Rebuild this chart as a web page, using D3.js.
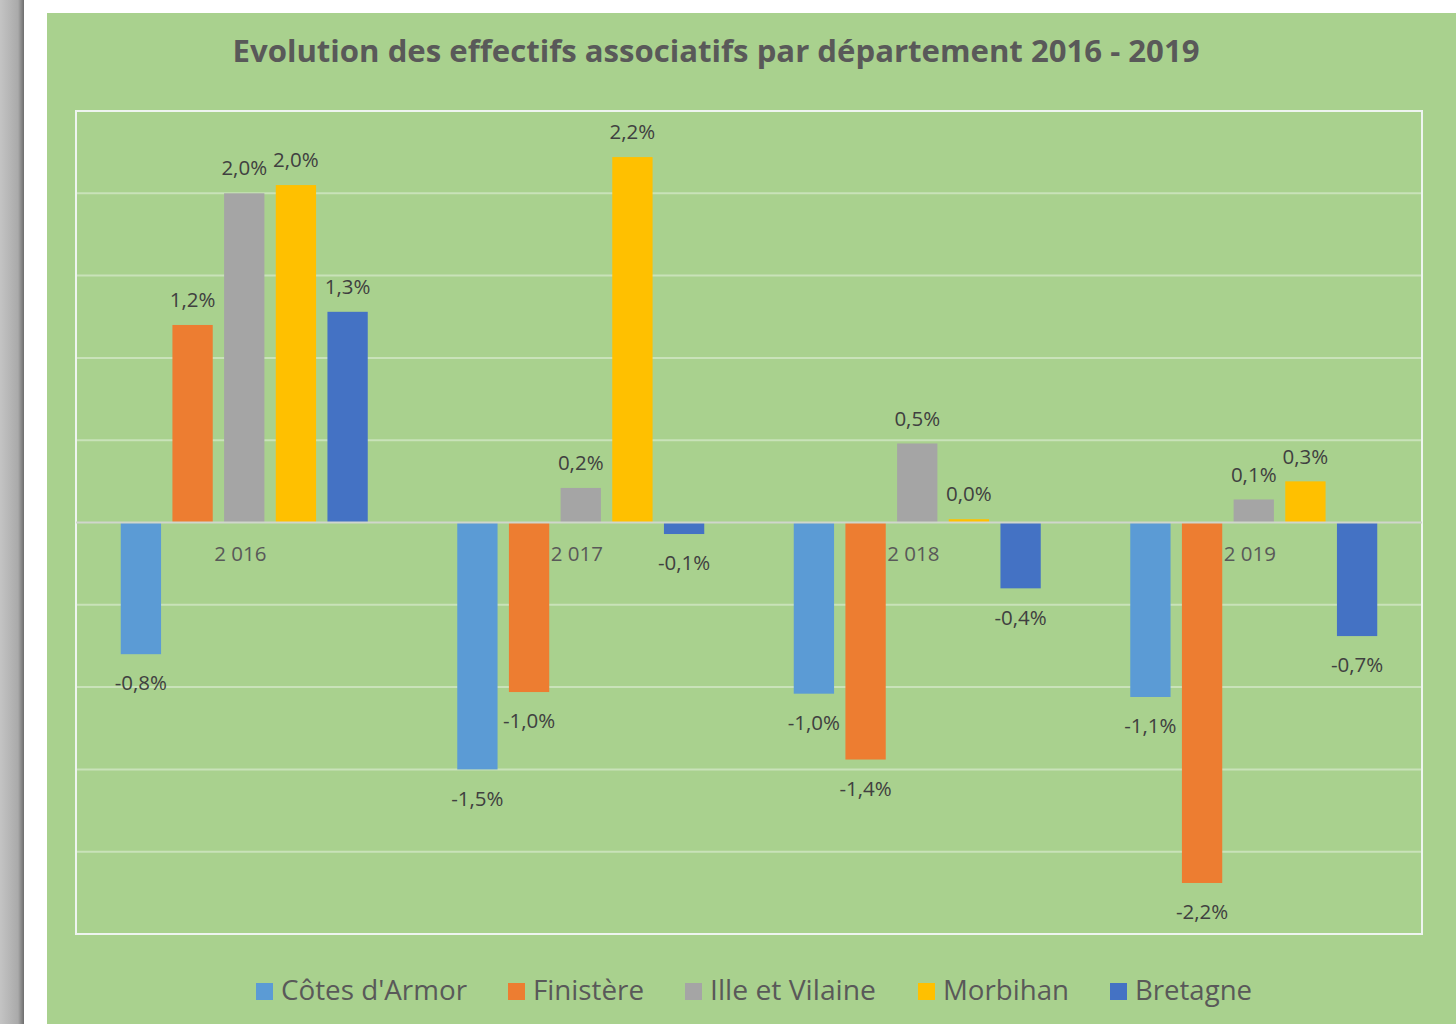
<!DOCTYPE html>
<html><head><meta charset="utf-8">
<script src="https://cdn.jsdelivr.net/npm/d3@7"></script>
<style>html,body{margin:0;padding:0;background:#fff;}svg{display:block;}</style>
</head><body>
<svg id="c" width="1456" height="1024"></svg>
<script>
const categories = ["2 016", "2 017", "2 018", "2 019"];
const seriesNames = ["Côtes d'Armor", "Finistère", "Ille et Vilaine", "Morbihan", "Bretagne"];
const cotesArmor = [-0.8, -1.5, -1.04, -1.06];
const finistere = [1.2, -1.03, -1.44, -2.19];
const illeVilaine = [2.0, 0.21, 0.48, 0.14];
const morbihan = [2.05, 2.22, 0.02, 0.25];
const bretagne = [1.28, -0.07, -0.4, -0.69];
const labelTexts = [
  ["-0,8%", "-1,5%", "-1,0%", "-1,1%"],
  ["1,2%", "-1,0%", "-1,4%", "-2,2%"],
  ["2,0%", "0,2%", "0,5%", "0,1%"],
  ["2,0%", "2,2%", "0,0%", "0,3%"],
  ["1,3%", "-0,1%", "-0,4%", "-0,7%"]
];
const gridTicks = [-2.5, -2.0, -1.5, -1.0, -0.5, 0, 0.5, 1.0, 1.5, 2.0, 2.5];
const colors = ["#5b9bd5", "#ed7d31", "#a5a5a5", "#ffc000", "#4472c4"];
const title = "Evolution des effectifs associatifs par département 2016 - 2019";

const values = [cotesArmor, finistere, illeVilaine, morbihan, bretagne];
const svg = d3.select("#c");
const FONT = "'Open Sans', 'Noto Sans', sans-serif";

const grad = svg.append("defs").append("linearGradient").attr("id", "g1");
grad.append("stop").attr("offset", "0%").attr("stop-color", "#c4c4c4");
grad.append("stop").attr("offset", "75%").attr("stop-color", "#aaaaaa");
grad.append("stop").attr("offset", "100%").attr("stop-color", "#6e6e6e");
svg.append("rect").attr("x", 0).attr("y", 0).attr("width", 24).attr("height", 1024).attr("fill", "url(#g1)");
svg.append("rect").attr("x", 47).attr("y", 13).attr("width", 1409).attr("height", 1011).attr("fill", "#a9d18e");

const L = 76, R = 1422, T = 111, B = 934;
const y = d3.scaleLinear().domain([-2.5, 2.5]).range([B, T]);
const x0 = d3.scaleBand().domain(categories).range([L, R]).paddingInner(0.266).paddingOuter(0.133);
const x1 = d3.scaleBand().domain(seriesNames).range([0, x0.bandwidth()]).paddingInner(0.22).paddingOuter(0);

svg.append("g").selectAll("line").data(gridTicks.filter(t => t !== 0 && t !== 2.5 && t !== -2.5)).join("line")
  .attr("x1", L).attr("x2", R).attr("y1", d => y(d)).attr("y2", d => y(d))
  .attr("stroke", "#c9e2b9").attr("stroke-width", 2);

svg.append("rect").attr("x", L).attr("y", T).attr("width", R - L).attr("height", B - T)
  .attr("fill", "none").attr("stroke", "#eef4f0").attr("stroke-width", 2);

const data = [];
seriesNames.forEach((s, si) => categories.forEach((c, ci) => data.push({s, si, c, v: values[si][ci], t: labelTexts[si][ci]})));
svg.append("g").selectAll("rect").data(data).join("rect")
  .attr("x", d => x0(d.c) + x1(d.s))
  .attr("width", x1.bandwidth())
  .attr("y", d => y(Math.max(0, d.v)))
  .attr("height", d => Math.abs(y(d.v) - y(0)))
  .attr("fill", d => colors[d.si]);

svg.append("line").attr("x1", L).attr("x2", R).attr("y1", y(0)).attr("y2", y(0))
  .attr("stroke", "#d0d6cc").attr("stroke-width", 2);

svg.append("g").selectAll("text").data(data).join("text")
  .attr("x", d => x0(d.c) + x1(d.s) + x1.bandwidth() / 2)
  .attr("y", d => d.v >= 0 ? y(d.v) - 25 : y(d.v) + 29)
  .attr("dy", "0.35em")
  .attr("text-anchor", "middle")
  .attr("font-family", FONT).attr("font-size", 20.5).attr("fill", "#404040")
  .text(d => d.t);

svg.append("g").selectAll("text").data(categories).join("text")
  .attr("x", d => x0(d) + x0.bandwidth() / 2 - 4)
  .attr("y", y(0) + 31).attr("dy", "0.35em")
  .attr("text-anchor", "middle")
  .attr("font-family", FONT).attr("font-size", 20.5).attr("fill", "#595959")
  .text(d => d);

svg.append("text").attr("x", 716).attr("y", 62).attr("text-anchor", "middle")
  .attr("font-family", FONT).attr("font-weight", "bold").attr("font-size", 31)
  .attr("fill", "#595959").attr("textLength", 967).attr("lengthAdjust", "spacingAndGlyphs")
  .text(title);

const legendX = [256, 508, 685, 918, 1110];
const legendW = [186, 111, 166, 126, 117];
const lg = svg.append("g").selectAll("g").data(seriesNames).join("g")
  .attr("transform", (d, i) => `translate(${legendX[i]},0)`);
lg.append("rect").attr("x", 0).attr("y", 983).attr("width", 17).attr("height", 17).attr("fill", (d, i) => colors[i]);
lg.append("text").attr("x", 25).attr("y", 1000)
  .attr("font-family", FONT).attr("font-size", 28).attr("fill", "#595959")
  .attr("textLength", (d, i) => legendW[i]).attr("lengthAdjust", "spacingAndGlyphs")
  .text(d => d);
</script>
</body></html>
